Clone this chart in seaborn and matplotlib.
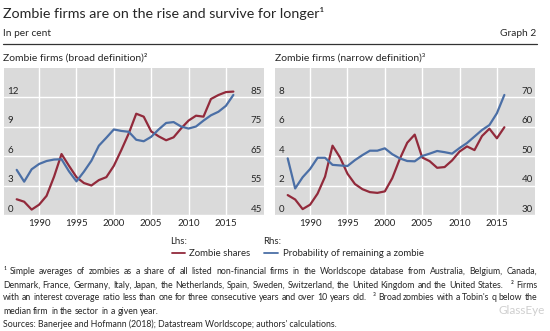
import matplotlib
matplotlib.use('Agg')
import matplotlib.pyplot as plt
from matplotlib.lines import Line2D
import seaborn as sns
import pandas as pd

# ---------------- data ----------------
years = list(range(1987, 2017))
broad_share = [1.6, 1.35, 0.55, 1.05, 1.95, 3.9, 6.2, 5.0, 3.85, 3.25, 3.0, 3.55, 3.85, 5.0,
               6.6, 8.3, 10.3, 10.0, 8.5, 8.0, 7.6, 7.9, 8.8, 9.6, 10.1, 10.0, 11.8, 12.2, 12.5, 12.55]
broad_prob = [60.3, 56.3, 60.5, 62.3, 63.3, 63.8, 63.9, 59.8, 56.4, 59.7, 63.4, 68.5, 71.2, 74.0,
              73.5, 73.2, 70.5, 70.0, 71.5, 74.0, 76.2, 76.5, 75.0, 74.3, 75.0, 77.0, 78.8, 80.0, 82.0, 85.7]
narrow_share = [1.35, 1.05, 0.4, 0.7, 1.45, 2.6, 4.7, 3.9, 2.8, 2.1, 1.75, 1.55, 1.5, 1.6,
                2.5, 3.8, 4.9, 5.45, 3.9, 3.65, 3.2, 3.25, 3.7, 4.3, 4.65, 4.4, 5.35, 5.85, 5.2, 5.95]
narrow_prob = [49.2, 39.0, 42.8, 45.6, 49.4, 49.4, 47.0, 46.8, 46.6, 48.6, 50.3, 51.8, 51.8, 52.6,
               50.6, 49.2, 48.3, 48.2, 50.0, 50.8, 51.7, 51.3, 50.8, 52.7, 54.4, 56.6, 58.8, 60.5, 64.5, 70.7]

broad_lhs_ticks = [0, 3, 6, 9, 12]
broad_rhs_ticks = [45, 55, 65, 75, 85]
narrow_lhs_ticks = [0, 2, 4, 6, 8]
narrow_rhs_ticks = [30, 40, 50, 60, 70]
major_years = [1990, 1995, 2000, 2005, 2010, 2015]
minor_years = list(range(1987, 2018))

title = "Zombie firms are on the rise and survive for longer\u00b9"
unit = "In per cent"
graph_no = "Graph 2"
panel_titles = ["Zombie firms (broad definition)\u00b2", "Zombie firms (narrow definition)\u00b3"]
legend_labels = ["Zombie shares", "Probability of remaining a zombie"]
footnotes = [
    "\u00b9 Simple averages of zombies as a share of all listed non-financial firms in the Worldscope database from Australia, Belgium, Canada,",
    "Denmark, France, Germany, Italy, Japan, the Netherlands, Spain, Sweden, Switzerland, the United Kingdom and the United States. \u00b2 Firms",
    "with an interest coverage ratio less than one for three consecutive years and over 10 years old. \u00b3 Broad zombies with a Tobin's q below the",
    "median firm in the sector in a given year.",
]
sources = "Sources: Banerjee and Hofmann (2018); Datastream Worldscope; authors' calculations."

# ---------------- style ----------------
RED = '#922a3b'
BLUE = '#4b6fa6'
BG = '#dadada'
TXT = '#262626'
sns.set_theme(style='white')
plt.rcParams['font.family'] = ['Lato', 'DejaVu Sans']
plt.rcParams['text.color'] = TXT

W, H = 550, 331
fig = plt.figure(figsize=(W / 100, H / 100), dpi=100)
fig.patch.set_facecolor('white')


def fx(x):
    return x / W


def fy(y):
    return 1 - y / H


def add_ax(x0, x1, ytop, ybot):
    return fig.add_axes([fx(x0), fy(ybot), (x1 - x0) / W, (ybot - ytop) / H])


XL = (1985.3, 2020.1)


def panel(ax, share, prob, lticks, rticks, lylim, rylim):
    df = pd.DataFrame({'year': years, 'share': share, 'prob': prob})
    ax.set_facecolor(BG)
    ax2 = ax.twinx()
    ax.set_xlim(XL)
    ax.set_ylim(lylim)
    ax2.set_ylim(rylim)
    sns.lineplot(data=df, x='year', y='share', ax=ax, color=RED, lw=1.6)
    sns.lineplot(data=df, x='year', y='prob', ax=ax2, color=BLUE, lw=1.6)
    for a in (ax, ax2):
        a.set_xlabel('')
        a.set_ylabel('')
        for s in a.spines.values():
            s.set_visible(False)
    ax.set_yticks(lticks)
    ax.set_yticklabels([])
    ax2.set_yticks(rticks)
    ax2.set_yticklabels([])
    ax.tick_params(axis='y', length=0)
    ax2.tick_params(axis='y', length=0)
    ax.set_xticks(major_years)
    ax.set_xticklabels([str(y) for y in major_years])
    ax.set_xticks(minor_years, minor=True)
    ax.tick_params(axis='x', which='major', direction='in', length=7, width=0.9,
                   color='#555555', labelsize=7, pad=3, labelcolor=TXT)
    ax.tick_params(axis='x', which='minor', direction='in', length=3.5, width=0.8,
                   color='#555555')
    ax.grid(True, which='major', color='white', lw=1.0)
    ax.set_axisbelow(True)
    for v in lticks:
        ax.annotate(str(v), xy=(0, v), xycoords=('axes fraction', 'data'),
                    xytext=(2.5, 2.3), textcoords='offset points', ha='left',
                    va='baseline', fontsize=7, color=TXT)
    for v in rticks:
        ax2.annotate(str(v), xy=(1, v), xycoords=('axes fraction', 'data'),
                     xytext=(-1.5, 2.3), textcoords='offset points', ha='right',
                     va='baseline', fontsize=7, color=TXT)
    return ax2


axL = add_ax(4, 264, 67.5, 215)
panel(axL, broad_share, broad_prob, broad_lhs_ticks, broad_rhs_ticks, (0, 15), (45, 95))
axR = add_ax(275, 535, 67.5, 215)
panel(axR, narrow_share, narrow_prob, narrow_lhs_ticks, narrow_rhs_ticks, (0, 10), (30, 80))

# ---------------- header ----------------
fig.text(fx(3), fy(13), title, fontsize=10.3, va='center', ha='left', color=TXT)
fig.text(fx(3), fy(33), unit, fontsize=7.3, va='center', ha='left', color=TXT)
fig.text(fx(536), fy(33), graph_no, fontsize=7.3, va='center', ha='right', color=TXT)
fig.add_artist(Line2D([fx(3), fx(537)], [fy(44), fy(44)], color='#333333', lw=0.9))
fig.text(fx(3), fy(58), panel_titles[0], fontsize=7.5, va='center', ha='left', color=TXT)
fig.text(fx(275), fy(58), panel_titles[1], fontsize=7.5, va='center', ha='left', color=TXT)

# ---------------- legend ----------------
fig.text(fx(170.5), fy(241), "Lhs:", fontsize=6.9, va='center', ha='left', color=TXT)
fig.text(fx(263), fy(241), "Rhs:", fontsize=6.9, va='center', ha='left', color=TXT)
fig.add_artist(Line2D([fx(172), fx(185)], [fy(253), fy(253)], color=RED, lw=1.3))
fig.add_artist(Line2D([fx(264), fx(278)], [fy(253), fy(253)], color=BLUE, lw=1.3))
fig.text(fx(189), fy(253), legend_labels[0], fontsize=6.9, va='center', ha='left', color=TXT)
fig.text(fx(283), fy(253), legend_labels[1], fontsize=6.9, va='center', ha='left', color=TXT)

# ---------------- footnotes (justified) ----------------
renderer = fig.canvas.get_renderer()


def justified(line, y, x0=3, x1=537, size=6.3, just=True):
    toks = line.split(' ')
    arts = [fig.text(fx(x0), fy(y), t, fontsize=size, va='center', ha='left', color=TXT) for t in toks]
    widths = [a.get_window_extent(renderer).width for a in arts]
    weights = []
    for t in toks[1:]:
        weights.append(3.0 if t and t[0] in '\u00b9\u00b2\u00b3' else 1.0)
    space = fig.text(0, 0, ' ', fontsize=size)
    sp = space.get_window_extent(renderer).width
    space.remove()
    if just and len(toks) > 1:
        unit_gap = ((x1 - x0) - sum(widths)) / sum(weights)
    else:
        unit_gap = sp
    x = x0
    for i, a in enumerate(arts):
        a.set_x(fx(x))
        if i < len(weights):
            x += widths[i] + unit_gap * weights[i]


ys = [271, 285, 298, 311]
for i, (ln, y) in enumerate(zip(footnotes, ys)):
    justified(ln, y, just=(i < 3))
fig.text(fx(3), fy(324), sources, fontsize=6.3, va='center', ha='left', color=TXT)
fig.text(fx(545), fy(311), "GlassEye", fontsize=8.5, va='center', ha='right', color='#cfcfcf')

fig.savefig('out.png', dpi=100)
